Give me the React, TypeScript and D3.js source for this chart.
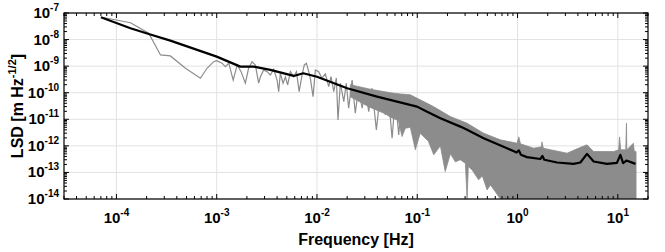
import React from "react";
import * as d3 from "d3";

const W = 665, H = 252;
const M = { left: 64, right: 17, top: 13, bottom: 53 };

const xTicks = [1e-4, 1e-3, 1e-2, 1e-1, 1, 10];
const xTickExp = ["-4", "-3", "-2", "-1", "0", "1"];
const yTicks = [1e-7, 1e-8, 1e-9, 1e-10, 1e-11, 1e-12, 1e-13, 1e-14];
const yTickExp = ["-7", "-8", "-9", "-10", "-11", "-12", "-13", "-14"];

// smoothed spectrum (black)
const blackF = [7.0e-5, 1.38e-4, 2.1e-4, 3.45e-4, 1.0e-3, 1.72e-3, 2.34e-3, 3.43e-3, 5.86e-3, 7.3e-3, 1.0e-2, 2.0e-2, 3.97e-2, 0.0995, 0.124, 0.17, 0.269, 0.314, 0.459, 0.785, 0.98, 1.03, 1.08, 1.24, 1.69, 1.77, 1.85, 2.48, 3.62, 4.23, 4.93, 5.74, 7.8, 9.8, 10.6, 11.3, 12.2, 15.0];
const blackV = [6.9e-8, 2.66e-8, 1.63e-8, 9.1e-9, 2.28e-9, 9.6e-10, 9.6e-10, 7.2e-10, 4.28e-10, 5.4e-10, 4.0e-10, 1.48e-10, 7.1e-11, 3.0e-11, 1.95e-11, 1.1e-11, 5.3e-12, 4.0e-12, 1.95e-12, 8.2e-13, 5.6e-13, 6.8e-13, 4.6e-13, 3.76e-13, 3.2e-13, 4.2e-13, 3.0e-13, 2.36e-13, 2.1e-13, 2.36e-13, 5.0e-13, 2.57e-13, 2.1e-13, 2.3e-13, 4.6e-13, 2.24e-13, 2.8e-13, 2.1e-13];

// raw spectrum (grey), low-frequency part as a line
const greyF = [7.2e-5, 1.38e-4, 2.1e-4, 2.75e-4, 3.45e-4, 4.88e-4, 6.88e-4, 8.0e-4, 9.33e-4, 1.0e-3, 1.13e-3, 1.22e-3, 1.32e-3, 1.46e-3, 1.6e-3, 1.75e-3, 1.93e-3, 2.08e-3, 2.25e-3, 2.43e-3, 2.62e-3, 2.73e-3, 2.94e-3, 3.18e-3, 3.43e-3, 3.7e-3, 4.0e-3, 4.15e-3, 4.31e-3, 4.59e-3, 4.84e-3, 5.1e-3, 5.43e-3, 5.86e-3, 6.24e-3, 6.64e-3, 7.1e-3, 7.48e-3, 7.84e-3, 8.27e-3, 8.6e-3, 9.14e-3, 9.64e-3, 1.04e-2, 1.12e-2, 1.21e-2, 1.31e-2, 1.38e-2, 1.47e-2, 1.56e-2, 1.62e-2, 1.71e-2, 1.85e-2, 1.96e-2, 2.07e-2, 2.24e-2, 2.41e-2, 2.59e-2, 2.82e-2, 3.04e-2, 3.28e-2, 3.54e-2, 3.91e-2, 4.29e-2, 4.81e-2, 5.15e-2, 5.61e-2, 6.05e-2, 6.53e-2, 7.05e-2, 7.6e-2];
const greyV = [6.9e-8, 4.3e-8, 1.73e-8, 2.64e-9, 2.42e-9, 8.3e-10, 3.5e-10, 8.3e-10, 1.47e-9, 1.61e-9, 1.29e-9, 9.6e-10, 1.29e-9, 3.0e-10, 1.11e-9, 6.2e-10, 2.28e-10, 8.3e-10, 1.47e-9, 1.11e-9, 2.28e-10, 4.0e-10, 7.2e-10, 6.2e-10, 4.67e-10, 7.6e-10, 3.0e-10, 1.1e-10, 5.4e-10, 2.28e-10, 3.9e-10, 1.96e-10, 6.2e-10, 4.0e-10, 6.2e-10, 1.1e-10, 4.67e-10, 1.11e-9, 1.29e-9, 6.2e-10, 3.3e-10, 7.1e-11, 7.2e-10, 6.2e-10, 3.5e-10, 5.1e-10, 1.69e-10, 4.0e-10, 1.1e-10, 3.6e-10, 9.5e-12, 2.28e-10, 4.6e-11, 2.28e-10, 2.6e-11, 3.0e-10, 1.69e-11, 1.51e-10, 2.6e-11, 1.39e-10, 1.95e-11, 1.48e-10, 4.0e-12, 9.8e-11, 1.46e-11, 8.3e-11, 1.95e-12, 6.95e-11, 2.6e-12, 7.6e-11, 4.6e-12];

// raw spectrum (grey), dense high-frequency part: upper and lower envelope
const bandUpF = [2.15e-2, 3.41e-2, 5.4e-2, 6.78e-2, 8.53e-2, 0.107, 0.145, 0.214, 0.314, 0.459, 0.674, 0.99, 1.03, 1.07, 1.45, 1.73, 1.75, 1.81, 3.12, 4.13, 4.93, 5.74, 9.08, 10.2, 10.4, 10.7, 12.0, 12.2, 12.3, 14.3, 14.6, 15.2];
const bandUpV = [2.0e-10, 1.35e-10, 1.0e-10, 9.0e-11, 8.3e-11, 5.4e-11, 3.0e-11, 1.26e-11, 7.1e-12, 3.0e-12, 1.68e-12, 1.26e-12, 2.18e-12, 1.19e-12, 8.2e-13, 9.2e-13, 1.41e-12, 8.1e-13, 5.3e-13, 8.4e-13, 1.09e-12, 6.1e-13, 6.1e-13, 7.1e-13, 2.18e-12, 7.1e-13, 7.1e-13, 7.1e-12, 7.1e-13, 1.26e-12, 6.1e-13, 6.1e-13];
const bandLoF = [2.15e-2, 3.4e-2, 4.81e-2, 5.4e-2, 6.49e-2, 7.05e-2, 7.6e-2, 8.53e-2, 9.57e-2, 0.107, 0.129, 0.146, 0.17, 0.19, 0.214, 0.24, 0.269, 0.302, 0.314, 0.323, 0.354, 0.409, 0.446, 0.497, 0.536, 0.601, 0.674, 15.2];
const bandLoV = [7.0e-11, 2.8e-11, 1.6e-11, 1.2e-11, 9.0e-12, 2.24e-12, 4.6e-12, 5.0e-12, 7.1e-13, 3.0e-12, 1.5e-12, 4.6e-13, 1.0e-12, 1.08e-13, 5.0e-13, 2.5e-13, 3.0e-13, 2.2e-13, 1e-14, 1.7e-13, 1.2e-13, 5.3e-14, 7.4e-14, 2.2e-14, 3.4e-14, 1.87e-14, 1e-14, 1e-14];

export default function App() {
  const x = d3.scaleLog().domain([3e-5, 20]).range([M.left, W - M.right]);
  const y = d3.scaleLog().domain([1e-14, 1e-7]).range([H - M.bottom, M.top]);
  const x0 = M.left, x1 = W - M.right, y0 = M.top, y1 = H - M.bottom;

  const line = d3.line<[number, number]>().x(d => x(d[0])).y(d => y(d[1]));
  const blackPts: [number, number][] = blackF.map((f, i) => [f, blackV[i]]);
  const greyPts: [number, number][] = greyF.map((f, i) => [f, greyV[i]]);
  const bandPts: [number, number][] = [
    ...bandUpF.map((f, i) => [f, bandUpV[i]] as [number, number]),
    ...bandLoF.map((f, i) => [f, bandLoV[i]] as [number, number]).reverse(),
  ];

  const xMinor: number[] = [];
  for (let e = -5; e <= 1; e++) for (let k = 1; k <= 9; k++) {
    const v = k * Math.pow(10, e);
    if (v >= 3e-5 && v <= 20) xMinor.push(v);
  }
  const yMinor: number[] = [];
  for (let e = -14; e <= -8; e++) for (let k = 1; k <= 9; k++) yMinor.push(k * Math.pow(10, e));
  yMinor.push(1e-7);

  const font = "'Liberation Sans', Arial, sans-serif";
  const grid = "#e2e2e2";
  const grey = "#8c8c8c";

  return (
    <svg width={W} height={H} style={{ position: "absolute", left: 0, top: 0, background: "#fff" }} fontFamily={font}>
      <defs>
        <clipPath id="plotclip">
          <rect x={x0} y={y0} width={x1 - x0} height={y1 - y0} />
        </clipPath>
      </defs>
      <rect x={0} y={0} width={W} height={H} fill="#fff" />
      {xTicks.map((t, i) => (
        <line key={"gx" + i} x1={x(t)} x2={x(t)} y1={y0} y2={y1} stroke={grid} strokeWidth={1} />
      ))}
      {yTicks.map((t, i) => (
        <line key={"gy" + i} x1={x0} x2={x1} y1={y(t)} y2={y(t)} stroke={grid} strokeWidth={1} />
      ))}
      <g clipPath="url(#plotclip)">
        <path d={line(bandPts) + "Z"} fill={grey} stroke={grey} strokeWidth={0.8} />
        <path d={line(greyPts) || ""} fill="none" stroke={grey} strokeWidth={1.2} />
        <path d={line(blackPts) || ""} fill="none" stroke="#000" strokeWidth={2.2} strokeLinejoin="round" />
      </g>
      {xMinor.map((t, i) => {
        const major = xTicks.some(v => Math.abs(v / t - 1) < 1e-6);
        const len = major ? 5 : 3;
        const px = x(t);
        return (
          <g key={"tx" + i}>
            <line x1={px} x2={px} y1={y1} y2={y1 - len} stroke="#000" />
            <line x1={px} x2={px} y1={y0} y2={y0 + len} stroke="#000" />
          </g>
        );
      })}
      {yMinor.map((t, i) => {
        const major = yTicks.some(v => Math.abs(v / t - 1) < 1e-6);
        const len = major ? 5 : 3;
        const py = y(t);
        return (
          <g key={"ty" + i}>
            <line x1={x0} x2={x0 + len} y1={py} y2={py} stroke="#000" />
            <line x1={x1} x2={x1 - len} y1={py} y2={py} stroke="#000" />
          </g>
        );
      })}
      <rect x={x0} y={y0} width={x1 - x0} height={y1 - y0} fill="none" stroke="#000" strokeWidth={1.2} />
      {xTicks.map((t, i) => (
        <text key={"lx" + i} x={x(t)} y={223} textAnchor="middle" fontSize={15} fontWeight="bold">
          10<tspan dy={-7} fontSize={10}>{xTickExp[i]}</tspan>
        </text>
      ))}
      {yTicks.map((t, i) => (
        <text key={"ly" + i} x={59} y={y(t) + 5} textAnchor="end" fontSize={15} fontWeight="bold">
          10<tspan dy={-7} fontSize={10}>{yTickExp[i]}</tspan>
        </text>
      ))}
      <text x={(x0 + x1) / 2} y={245} textAnchor="middle" fontSize={16} fontWeight="bold">Frequency [Hz]</text>
      <text transform={`translate(23,${(y0 + y1) / 2}) rotate(-90)`} textAnchor="middle" fontSize={16} fontWeight="bold">
        LSD [m Hz<tspan dy={-7} fontSize={11}>-1/2</tspan><tspan dy={7}>]</tspan>
      </text>
    </svg>
  );
}
